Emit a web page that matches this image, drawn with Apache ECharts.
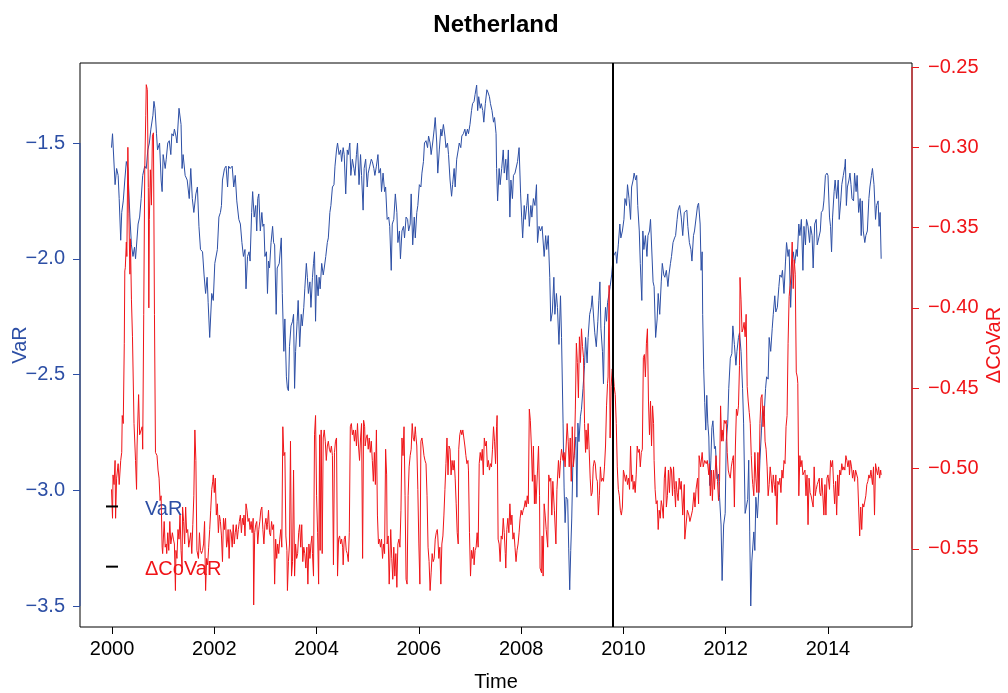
<!DOCTYPE html>
<html>
<head>
<meta charset="utf-8">
<script src="https://cdn.jsdelivr.net/npm/echarts@6/dist/echarts.min.js"></script>
<style>
  html, body { margin: 0; padding: 0; background: #fff; }
  #chart { width: 1008px; height: 693px; }
</style>
</head>
<body>
<div id="chart"></div>
<script>
// Weekly VaR (left axis) and ΔCoVaR (right axis) for the Netherlands, 2000–2015.
const varTime = [
1999.99,2000.01,2000.06,2000.09,2000.12,2000.14,2000.17,2000.19,2000.22,2000.25,2000.28,2000.31,2000.35,2000.38,2000.41,2000.44,2000.46,2000.51,2000.54,2000.57,
2000.60,2000.64,2000.67,2000.70,2000.73,2000.76,2000.80,2000.82,2000.84,2000.87,2000.89,2000.93,2000.96,2000.98,2001.00,2001.04,2001.06,2001.09,2001.12,2001.15,
2001.17,2001.20,2001.22,2001.25,2001.27,2001.31,2001.35,2001.37,2001.39,2001.43,2001.47,2001.51,2001.54,2001.57,2001.60,2001.64,2001.67,2001.70,2001.73,2001.77,
2001.80,2001.83,2001.86,2001.88,2001.91,2001.95,2001.98,2002.01,2002.06,2002.09,2002.12,2002.14,2002.16,2002.20,2002.23,2002.26,2002.28,2002.31,2002.35,2002.38,
2002.41,2002.44,2002.48,2002.51,2002.54,2002.57,2002.60,2002.62,2002.65,2002.68,2002.70,2002.73,2002.75,2002.78,2002.81,2002.83,2002.85,2002.87,2002.90,2002.93,
2002.95,2002.97,2002.99,2003.02,2003.04,2003.06,2003.08,2003.11,2003.14,2003.16,2003.18,2003.21,2003.23,2003.27,2003.31,2003.33,2003.36,2003.38,2003.41,2003.43,
2003.45,2003.47,2003.50,2003.53,2003.55,2003.57,2003.59,2003.62,2003.64,2003.67,2003.70,2003.72,2003.75,2003.77,2003.80,2003.82,2003.84,2003.87,2003.89,2003.92,
2003.94,2003.96,2003.98,2004.00,2004.03,2004.05,2004.07,2004.10,2004.13,2004.15,2004.18,2004.21,2004.23,2004.26,2004.28,2004.31,2004.34,2004.36,2004.39,2004.41,
2004.44,2004.47,2004.49,2004.52,2004.54,2004.57,2004.60,2004.62,2004.65,2004.67,2004.70,2004.73,2004.75,2004.78,2004.80,2004.83,2004.86,2004.88,2004.91,2004.93,
2004.96,2004.99,2005.01,2005.04,2005.07,2005.09,2005.12,2005.14,2005.17,2005.20,2005.22,2005.25,2005.27,2005.30,2005.33,2005.35,2005.38,2005.41,2005.43,2005.46,
2005.48,2005.51,2005.54,2005.57,2005.59,2005.62,2005.64,2005.67,2005.70,2005.72,2005.75,2005.78,2005.80,2005.83,2005.85,2005.88,2005.91,2005.93,2005.96,2005.98,
2006.01,2006.04,2006.06,2006.09,2006.11,2006.14,2006.17,2006.19,2006.22,2006.24,2006.27,2006.30,2006.32,2006.35,2006.37,2006.40,2006.43,2006.45,2006.48,2006.51,
2006.53,2006.56,2006.58,2006.61,2006.64,2006.66,2006.69,2006.71,2006.74,2006.77,2006.79,2006.82,2006.84,2006.87,2006.90,2006.92,2006.95,2006.97,2007.00,2007.03,
2007.05,2007.08,2007.10,2007.13,2007.15,2007.17,2007.20,2007.22,2007.25,2007.27,2007.30,2007.33,2007.35,2007.38,2007.40,2007.43,2007.46,2007.48,2007.51,2007.52,
2007.54,2007.57,2007.59,2007.62,2007.65,2007.67,2007.70,2007.72,2007.75,2007.78,2007.80,2007.83,2007.85,2007.88,2007.91,2007.93,2007.96,2007.99,2008.01,2008.03,
2008.06,2008.08,2008.11,2008.13,2008.16,2008.19,2008.21,2008.24,2008.27,2008.30,2008.32,2008.35,2008.38,2008.41,2008.45,2008.48,2008.50,2008.53,2008.56,2008.58,
2008.61,2008.64,2008.66,2008.69,2008.71,2008.74,2008.77,2008.79,2008.82,2008.84,2008.86,2008.88,2008.91,2008.93,2008.95,2008.97,2008.99,2009.01,2009.04,2009.07,
2009.09,2009.11,2009.13,2009.16,2009.18,2009.21,2009.24,2009.26,2009.29,2009.31,2009.34,2009.37,2009.39,2009.42,2009.44,2009.47,2009.50,2009.52,2009.54,2009.56,
2009.59,2009.61,2009.63,2009.65,2009.67,2009.69,2009.72,2009.74,2009.77,2009.80,2009.82,2009.85,2009.87,2009.90,2009.93,2009.95,2009.98,2010.01,2010.03,2010.06,
2010.08,2010.11,2010.14,2010.16,2010.19,2010.21,2010.24,2010.26,2010.28,2010.31,2010.33,2010.36,2010.38,2010.40,2010.43,2010.46,2010.48,2010.51,2010.53,2010.55,
2010.58,2010.60,2010.63,2010.66,2010.68,2010.71,2010.74,2010.76,2010.79,2010.81,2010.84,2010.87,2010.89,2010.92,2010.94,2010.97,2011.00,2011.02,2011.05,2011.07,
2011.10,2011.13,2011.16,2011.19,2011.21,2011.24,2011.26,2011.29,2011.32,2011.34,2011.37,2011.39,2011.42,2011.45,2011.47,2011.50,2011.52,2011.54,2011.55,2011.57,
2011.59,2011.61,2011.63,2011.65,2011.67,2011.69,2011.71,2011.73,2011.75,2011.78,2011.80,2011.83,2011.86,2011.88,2011.91,2011.93,2011.96,2011.99,2012.01,2012.04,
2012.06,2012.09,2012.12,2012.14,2012.17,2012.20,2012.22,2012.25,2012.27,2012.30,2012.33,2012.35,2012.38,2012.40,2012.43,2012.45,2012.47,2012.49,2012.51,2012.53,
2012.55,2012.57,2012.59,2012.62,2012.65,2012.67,2012.70,2012.72,2012.75,2012.78,2012.80,2012.83,2012.85,2012.88,2012.91,2012.93,2012.96,2012.98,2013.01,2013.04,
2013.06,2013.09,2013.11,2013.14,2013.17,2013.19,2013.22,2013.24,2013.27,2013.30,2013.32,2013.35,2013.38,2013.40,2013.43,2013.45,2013.48,2013.51,2013.53,2013.56,
2013.58,2013.61,2013.64,2013.66,2013.69,2013.71,2013.74,2013.77,2013.79,2013.82,2013.85,2013.87,2013.90,2013.92,2013.95,2013.98,2014.00,2014.03,2014.05,2014.07,
2014.09,2014.12,2014.14,2014.17,2014.20,2014.22,2014.25,2014.27,2014.30,2014.33,2014.34,2014.36,2014.38,2014.41,2014.43,2014.45,2014.47,2014.50,2014.52,2014.55,
2014.57,2014.60,2014.63,2014.65,2014.67,2014.69,2014.72,2014.74,2014.77,2014.80,2014.82,2014.85,2014.87,2014.90,2014.93,2014.95,2014.98,2015.00,2015.02,2015.04
];
const varValue = [
-1.52,-1.46,-1.68,-1.61,-1.64,-1.74,-1.92,-1.80,-1.75,-1.66,-1.58,-1.61,-1.82,-1.94,-1.99,-1.95,-2.00,-1.85,-1.82,-1.74,
-1.64,-1.60,-1.61,-1.53,-1.50,-1.44,-1.38,-1.32,-1.35,-1.46,-1.53,-1.50,-1.66,-1.71,-1.55,-1.61,-1.57,-1.50,-1.49,-1.55,
-1.46,-1.47,-1.44,-1.47,-1.50,-1.35,-1.42,-1.61,-1.55,-1.64,-1.66,-1.74,-1.61,-1.74,-1.80,-1.72,-1.69,-1.86,-1.96,-1.97,
-2.07,-2.15,-2.08,-2.19,-2.34,-2.15,-2.18,-2.02,-1.96,-1.82,-1.80,-1.77,-1.66,-1.61,-1.60,-1.69,-1.60,-1.61,-1.60,-1.69,
-1.64,-1.75,-1.83,-1.85,-1.93,-1.99,-1.96,-2.13,-1.99,-1.97,-2.01,-1.80,-1.71,-1.82,-1.77,-1.88,-1.74,-1.72,-1.88,-1.80,
-1.86,-1.85,-1.99,-1.97,-2.15,-2.01,-2.04,-1.93,-1.86,-1.93,-1.94,-2.24,-2.04,-2.02,-1.91,-2.15,-2.40,-2.26,-2.51,-2.56,
-2.57,-2.38,-2.29,-2.27,-2.24,-2.56,-2.40,-2.27,-2.18,-2.38,-2.24,-2.29,-2.21,-2.13,-2.02,-2.08,-2.15,-2.10,-2.21,-2.08,
-2.02,-1.97,-2.27,-2.07,-2.16,-2.08,-2.13,-2.02,-2.07,-2.04,-1.99,-1.93,-1.91,-1.80,-1.77,-1.69,-1.68,-1.60,-1.53,-1.50,
-1.55,-1.53,-1.58,-1.52,-1.55,-1.72,-1.53,-1.55,-1.50,-1.64,-1.57,-1.61,-1.64,-1.55,-1.50,-1.68,-1.55,-1.64,-1.79,-1.61,
-1.57,-1.69,-1.63,-1.60,-1.57,-1.58,-1.61,-1.64,-1.60,-1.55,-1.63,-1.61,-1.71,-1.63,-1.71,-1.69,-1.83,-1.82,-1.86,-2.05,
-1.85,-1.83,-1.72,-1.80,-1.93,-1.88,-2.00,-1.88,-1.86,-1.91,-1.82,-1.83,-1.88,-1.85,-1.72,-1.94,-1.82,-1.91,-1.80,-1.77,
-1.68,-1.69,-1.63,-1.58,-1.50,-1.49,-1.52,-1.47,-1.50,-1.55,-1.50,-1.44,-1.39,-1.50,-1.63,-1.53,-1.44,-1.47,-1.42,-1.47,
-1.52,-1.50,-1.55,-1.66,-1.73,-1.68,-1.61,-1.69,-1.57,-1.53,-1.50,-1.52,-1.47,-1.46,-1.44,-1.47,-1.44,-1.46,-1.42,-1.36,
-1.33,-1.32,-1.29,-1.25,-1.36,-1.30,-1.35,-1.33,-1.36,-1.41,-1.33,-1.27,-1.28,-1.30,-1.33,-1.36,-1.41,-1.39,-1.46,-1.61,
-1.75,-1.61,-1.68,-1.61,-1.53,-1.63,-1.57,-1.66,-1.53,-1.82,-1.66,-1.74,-1.64,-1.63,-1.63,-1.58,-1.52,-1.72,-1.82,-1.91,
-1.77,-1.83,-1.77,-1.72,-1.86,-1.77,-1.82,-1.74,-1.77,-1.68,-1.93,-1.86,-1.88,-1.86,-1.99,-1.90,-1.96,-1.90,-2.08,-2.27,
-2.23,-2.08,-2.24,-2.15,-2.21,-2.37,-2.16,-2.34,-2.71,-2.99,-3.14,-3.03,-3.04,-3.25,-3.43,-3.26,-3.12,-2.90,-2.84,-2.77,
-3.03,-2.71,-2.79,-2.68,-2.65,-2.56,-2.46,-2.34,-2.45,-2.34,-2.24,-2.21,-2.16,-2.26,-2.32,-2.38,-2.27,-2.18,-2.10,-2.30,
-2.40,-2.54,-2.29,-2.21,-2.27,-2.19,-2.15,-2.12,-2.07,-1.99,-1.99,-1.97,-2.02,-1.94,-1.85,-1.91,-1.88,-1.83,-1.74,-1.77,
-1.68,-1.74,-1.83,-1.69,-1.66,-1.63,-1.66,-1.64,-1.77,-1.88,-2.02,-2.18,-1.88,-1.96,-1.90,-1.99,-1.90,-1.88,-1.83,-1.83,
-2.10,-2.12,-2.34,-2.26,-2.15,-2.24,-2.10,-2.02,-2.07,-2.08,-2.05,-2.12,-2.07,-2.02,-1.99,-1.93,-1.91,-1.90,-1.83,-1.79,
-1.77,-1.82,-1.90,-1.80,-1.80,-1.79,-1.86,-1.93,-1.96,-2.01,-1.90,-1.88,-1.88,-1.77,-1.76,-1.85,-2.05,-1.97,-2.24,-2.48,
-2.62,-2.74,-2.59,-2.71,-2.77,-2.98,-2.87,-2.73,-2.70,-2.82,-2.81,-2.95,-2.93,-3.03,-3.15,-3.39,-3.15,-3.10,-2.79,-2.71,
-2.56,-2.43,-2.41,-2.29,-2.37,-2.46,-2.40,-2.34,-2.32,-2.40,-2.56,-2.71,-3.10,-3.10,-3.04,-2.87,-3.18,-3.50,-3.31,-3.31,
-3.18,-3.26,-3.03,-3.12,-2.99,-2.87,-2.74,-2.65,-2.68,-2.56,-2.51,-2.52,-2.34,-2.40,-2.30,-2.24,-2.16,-2.23,-2.21,-2.12,
-2.07,-2.08,-2.05,-2.15,-2.01,-1.93,-1.99,-1.96,-2.21,-2.02,-1.97,-2.02,-1.96,-1.99,-1.85,-1.90,-1.83,-2.05,-1.86,-1.94,
-1.83,-1.86,-1.93,-1.86,-1.90,-2.04,-1.85,-1.83,-1.94,-1.91,-1.88,-1.80,-1.79,-1.75,-1.64,-1.63,-1.64,-1.82,-1.86,-1.97,
-1.82,-1.71,-1.66,-1.74,-1.66,-1.83,-1.75,-1.68,-1.64,-1.60,-1.57,-1.77,-1.69,-1.66,-1.63,-1.68,-1.74,-1.75,-1.63,-1.71,
-1.64,-1.80,-1.74,-1.90,-1.75,-1.88,-1.93,-1.90,-1.88,-1.74,-1.69,-1.64,-1.61,-1.68,-1.83,-1.77,-1.75,-1.86,-1.80,-2.00
];

const covarTime = [
1999.99,2000.01,2000.02,2000.04,2000.06,2000.07,2000.09,2000.12,2000.14,2000.17,2000.19,2000.20,2000.22,2000.24,2000.25,2000.26,2000.28,2000.29,2000.31,2000.33,
2000.35,2000.36,2000.38,2000.40,2000.43,2000.46,2000.48,2000.49,2000.52,2000.54,2000.57,2000.59,2000.60,2000.62,2000.64,2000.66,2000.67,2000.69,2000.71,2000.72,
2000.73,2000.75,2000.77,2000.79,2000.81,2000.83,2000.85,2000.88,2000.90,2000.92,2000.94,2000.96,2000.98,2000.99,2001.02,2001.04,2001.06,2001.07,2001.09,2001.11,
2001.13,2001.15,2001.18,2001.20,2001.22,2001.24,2001.25,2001.27,2001.29,2001.31,2001.33,2001.35,2001.37,2001.38,2001.40,2001.42,2001.44,2001.46,2001.48,2001.50,
2001.52,2001.54,2001.56,2001.58,2001.60,2001.62,2001.64,2001.66,2001.68,2001.69,2001.71,2001.73,2001.75,2001.77,2001.79,2001.81,2001.83,2001.85,2001.87,2001.89,
2001.91,2001.93,2001.95,2001.97,2001.98,2002.00,2002.02,2002.04,2002.06,2002.08,2002.10,2002.12,2002.14,2002.16,2002.18,2002.20,2002.22,2002.24,2002.26,2002.27,
2002.29,2002.31,2002.33,2002.35,2002.37,2002.39,2002.41,2002.43,2002.45,2002.47,2002.49,2002.51,2002.53,2002.55,2002.57,2002.58,2002.60,2002.62,2002.64,2002.66,
2002.68,2002.70,2002.72,2002.74,2002.76,2002.77,2002.79,2002.81,2002.83,2002.85,2002.87,2002.89,2002.91,2002.93,2002.95,2002.97,2002.99,2003.01,2003.03,2003.04,
2003.06,2003.08,2003.10,2003.12,2003.14,2003.16,2003.18,2003.20,2003.22,2003.24,2003.26,2003.28,2003.30,2003.32,2003.34,2003.36,2003.38,2003.40,2003.42,2003.43,
2003.45,2003.47,2003.49,2003.51,2003.53,2003.55,2003.57,2003.59,2003.61,2003.63,2003.65,2003.67,2003.69,2003.71,2003.73,2003.75,2003.77,2003.79,2003.81,2003.83,
2003.85,2003.87,2003.89,2003.91,2003.92,2003.94,2003.96,2003.98,2004.00,2004.02,2004.04,2004.06,2004.07,2004.09,2004.11,2004.13,2004.15,2004.17,2004.19,2004.21,
2004.23,2004.25,2004.27,2004.29,2004.31,2004.33,2004.35,2004.37,2004.39,2004.41,2004.43,2004.45,2004.47,2004.49,2004.51,2004.52,2004.54,2004.56,2004.58,2004.60,
2004.62,2004.64,2004.66,2004.68,2004.70,2004.72,2004.74,2004.76,2004.78,2004.80,2004.82,2004.84,2004.86,2004.88,2004.90,2004.92,2004.94,2004.95,2004.97,2004.99,
2005.01,2005.03,2005.05,2005.07,2005.09,2005.11,2005.13,2005.15,2005.17,2005.19,2005.21,2005.23,2005.25,2005.27,2005.29,2005.31,2005.33,2005.35,2005.37,2005.38,
2005.40,2005.42,2005.45,2005.47,2005.49,2005.51,2005.53,2005.55,2005.57,2005.59,2005.61,2005.63,2005.65,2005.67,2005.69,2005.71,2005.73,2005.75,2005.77,2005.79,
2005.81,2005.83,2005.85,2005.87,2005.89,2005.91,2005.93,2005.94,2005.96,2005.98,2006.00,2006.02,2006.04,2006.06,2006.08,2006.10,2006.12,2006.14,2006.16,2006.18,
2006.20,2006.22,2006.24,2006.26,2006.28,2006.30,2006.32,2006.34,2006.36,2006.37,2006.39,2006.41,2006.43,2006.45,2006.47,2006.49,2006.51,2006.53,2006.55,2006.57,
2006.59,2006.61,2006.63,2006.65,2006.67,2006.69,2006.71,2006.73,2006.75,2006.77,2006.78,2006.80,2006.82,2006.84,2006.86,2006.88,2006.90,2006.92,2006.94,2006.96,
2006.97,2006.99,2007.01,2007.03,2007.05,2007.07,2007.08,2007.10,2007.12,2007.14,2007.16,2007.18,2007.20,2007.22,2007.24,2007.26,2007.28,2007.30,2007.32,2007.34,
2007.36,2007.38,2007.40,2007.42,2007.44,2007.46,2007.48,2007.50,2007.52,2007.53,2007.55,2007.57,2007.59,2007.61,2007.63,2007.65,2007.67,2007.69,2007.70,2007.72,
2007.74,2007.76,2007.78,2007.80,2007.82,2007.84,2007.86,2007.88,2007.90,2007.92,2007.94,2007.96,2007.98,2008.00,2008.02,2008.04,2008.06,2008.08,2008.10,2008.12,
2008.14,2008.16,2008.18,2008.20,2008.22,2008.24,2008.26,2008.27,2008.29,2008.32,2008.34,2008.36,2008.37,2008.40,2008.41,2008.43,2008.45,2008.47,2008.49,2008.52,
2008.54,2008.56,2008.58,2008.60,2008.62,2008.65,2008.68,2008.70,2008.73,2008.75,2008.77,2008.79,2008.82,2008.84,2008.86,2008.88,2008.90,2008.92,2008.94,2008.96,
2008.98,2009.00,2009.02,2009.04,2009.06,2009.08,2009.10,2009.12,2009.14,2009.16,2009.18,2009.20,2009.22,2009.24,2009.26,2009.27,2009.29,2009.31,2009.33,2009.35,
2009.37,2009.39,2009.41,2009.43,2009.45,2009.47,2009.49,2009.51,2009.53,2009.55,2009.57,2009.59,2009.61,2009.63,2009.65,2009.67,2009.69,2009.70,2009.72,2009.74,
2009.76,2009.78,2009.80,2009.82,2009.84,2009.86,2009.88,2009.90,2009.92,2009.94,2009.96,2009.98,2010.00,2010.02,2010.04,2010.06,2010.08,2010.10,2010.12,2010.14,
2010.16,2010.18,2010.19,2010.21,2010.23,2010.25,2010.27,2010.29,2010.31,2010.33,2010.35,2010.37,2010.39,2010.41,2010.43,2010.45,2010.47,2010.49,2010.51,2010.53,
2010.55,2010.57,2010.59,2010.60,2010.62,2010.64,2010.66,2010.68,2010.70,2010.72,2010.74,2010.76,2010.78,2010.80,2010.82,2010.84,2010.86,2010.88,2010.90,2010.92,
2010.94,2010.96,2010.98,2011.00,2011.02,2011.03,2011.05,2011.07,2011.09,2011.11,2011.13,2011.16,2011.19,2011.20,2011.22,2011.25,2011.28,2011.30,2011.33,2011.35,
2011.38,2011.40,2011.42,2011.45,2011.47,2011.48,2011.51,2011.54,2011.56,2011.59,2011.62,2011.64,2011.67,2011.68,2011.70,2011.72,2011.74,2011.76,2011.78,2011.81,
2011.84,2011.86,2011.88,2011.90,2011.92,2011.93,2011.95,2011.97,2011.99,2012.01,2012.03,2012.05,2012.07,2012.09,2012.11,2012.13,2012.15,2012.17,2012.19,2012.21,
2012.23,2012.25,2012.27,2012.28,2012.30,2012.32,2012.34,2012.36,2012.38,2012.40,2012.42,2012.44,2012.46,2012.48,2012.50,2012.52,2012.53,2012.55,2012.57,2012.59,
2012.61,2012.63,2012.65,2012.67,2012.69,2012.71,2012.73,2012.75,2012.77,2012.79,2012.81,2012.83,2012.85,2012.87,2012.89,2012.91,2012.93,2012.95,2012.97,2012.98,
2013.00,2013.02,2013.04,2013.06,2013.08,2013.10,2013.12,2013.14,2013.16,2013.18,2013.20,2013.22,2013.24,2013.26,2013.28,2013.30,2013.32,2013.34,2013.36,2013.38,
2013.40,2013.41,2013.43,2013.45,2013.47,2013.49,2013.51,2013.53,2013.55,2013.57,2013.59,2013.61,2013.63,2013.65,2013.67,2013.69,2013.71,2013.73,2013.75,2013.77,
2013.79,2013.81,2013.83,2013.84,2013.86,2013.88,2013.90,2013.92,2013.94,2013.96,2013.98,2014.00,2014.03,2014.05,2014.07,2014.09,2014.11,2014.13,2014.15,2014.17,
2014.19,2014.21,2014.23,2014.25,2014.27,2014.29,2014.31,2014.33,2014.35,2014.37,2014.39,2014.41,2014.42,2014.44,2014.46,2014.48,2014.50,2014.52,2014.54,2014.56,
2014.58,2014.60,2014.62,2014.64,2014.66,2014.68,2014.70,2014.72,2014.74,2014.76,2014.78,2014.80,2014.82,2014.84,2014.85,2014.87,2014.89,2014.91,2014.93,2014.95,
2014.97,2014.99,2015.01,2015.03,2015.04
];
const covarValue = [
-0.513,-0.531,-0.504,-0.510,-0.495,-0.531,-0.506,-0.497,-0.510,-0.495,-0.490,-0.467,-0.472,-0.422,-0.377,-0.375,-0.359,-0.368,-0.300,-0.341,
-0.379,-0.357,-0.395,-0.418,-0.472,-0.495,-0.513,-0.486,-0.454,-0.479,-0.479,-0.474,-0.488,-0.404,-0.314,-0.280,-0.261,-0.264,-0.325,-0.400,
-0.345,-0.314,-0.336,-0.293,-0.291,-0.404,-0.490,-0.492,-0.501,-0.506,-0.520,-0.517,-0.549,-0.553,-0.533,-0.549,-0.547,-0.553,-0.540,-0.551,
-0.533,-0.547,-0.540,-0.544,-0.547,-0.576,-0.551,-0.556,-0.538,-0.544,-0.529,-0.551,-0.562,-0.524,-0.533,-0.547,-0.524,-0.540,-0.538,-0.549,
-0.549,-0.540,-0.553,-0.535,-0.517,-0.476,-0.495,-0.551,-0.551,-0.556,-0.540,-0.551,-0.553,-0.551,-0.547,-0.533,-0.576,-0.556,-0.560,-0.549,
-0.538,-0.526,-0.513,-0.508,-0.504,-0.515,-0.506,-0.529,-0.522,-0.540,-0.529,-0.533,-0.542,-0.558,-0.531,-0.538,-0.531,-0.549,-0.544,-0.538,
-0.556,-0.538,-0.540,-0.549,-0.535,-0.547,-0.540,-0.535,-0.544,-0.538,-0.533,-0.529,-0.540,-0.531,-0.535,-0.529,-0.542,-0.522,-0.526,-0.533,
-0.531,-0.538,-0.533,-0.540,-0.531,-0.585,-0.540,-0.535,-0.533,-0.547,-0.538,-0.533,-0.526,-0.524,-0.538,-0.547,-0.535,-0.531,-0.538,-0.535,
-0.526,-0.540,-0.542,-0.533,-0.538,-0.535,-0.572,-0.544,-0.556,-0.547,-0.553,-0.544,-0.538,-0.549,-0.474,-0.492,-0.490,-0.542,-0.551,-0.576,
-0.558,-0.547,-0.483,-0.567,-0.558,-0.501,-0.567,-0.547,-0.556,-0.553,-0.540,-0.535,-0.549,-0.535,-0.558,-0.549,-0.553,-0.562,-0.549,-0.572,
-0.547,-0.556,-0.547,-0.542,-0.553,-0.567,-0.479,-0.467,-0.517,-0.540,-0.572,-0.479,-0.551,-0.476,-0.553,-0.481,-0.476,-0.483,-0.495,-0.486,
-0.483,-0.488,-0.490,-0.486,-0.492,-0.560,-0.490,-0.483,-0.481,-0.567,-0.544,-0.542,-0.547,-0.544,-0.549,-0.560,-0.544,-0.542,-0.551,-0.553,
-0.558,-0.540,-0.474,-0.472,-0.479,-0.476,-0.483,-0.476,-0.486,-0.472,-0.486,-0.495,-0.481,-0.472,-0.556,-0.470,-0.474,-0.486,-0.481,-0.479,
-0.488,-0.481,-0.490,-0.483,-0.495,-0.508,-0.490,-0.510,-0.476,-0.529,-0.547,-0.544,-0.549,-0.544,-0.556,-0.547,-0.553,-0.488,-0.504,-0.547,
-0.542,-0.572,-0.538,-0.556,-0.569,-0.549,-0.567,-0.553,-0.574,-0.547,-0.544,-0.549,-0.526,-0.481,-0.492,-0.474,-0.517,-0.569,-0.572,-0.517,
-0.499,-0.492,-0.488,-0.472,-0.481,-0.483,-0.474,-0.479,-0.486,-0.513,-0.547,-0.572,-0.483,-0.481,-0.486,-0.492,-0.495,-0.497,-0.517,-0.549,
-0.558,-0.576,-0.565,-0.553,-0.558,-0.556,-0.544,-0.540,-0.538,-0.542,-0.556,-0.549,-0.572,-0.547,-0.542,-0.529,-0.513,-0.497,-0.481,-0.504,
-0.486,-0.488,-0.504,-0.495,-0.501,-0.495,-0.506,-0.522,-0.540,-0.547,-0.488,-0.479,-0.476,-0.479,-0.476,-0.481,-0.486,-0.492,-0.497,-0.495,
-0.501,-0.540,-0.567,-0.551,-0.556,-0.549,-0.560,-0.551,-0.549,-0.540,-0.549,-0.497,-0.490,-0.495,-0.488,-0.504,-0.481,-0.486,-0.483,-0.499,
-0.495,-0.501,-0.497,-0.499,-0.488,-0.474,-0.483,-0.497,-0.474,-0.467,-0.544,-0.547,-0.558,-0.542,-0.544,-0.531,-0.540,-0.553,-0.562,-0.538,
-0.531,-0.540,-0.522,-0.535,-0.529,-0.544,-0.540,-0.549,-0.558,-0.551,-0.547,-0.540,-0.531,-0.526,-0.529,-0.526,-0.524,-0.520,-0.524,-0.517,
-0.522,-0.463,-0.470,-0.486,-0.508,-0.486,-0.522,-0.504,-0.522,-0.501,-0.486,-0.517,-0.562,-0.565,-0.542,-0.567,-0.522,-0.529,-0.538,-0.549,
-0.504,-0.508,-0.506,-0.529,-0.508,-0.526,-0.547,-0.513,-0.495,-0.506,-0.495,-0.488,-0.495,-0.490,-0.499,-0.486,-0.472,-0.483,-0.499,-0.481,
-0.508,-0.474,-0.499,-0.492,-0.463,-0.422,-0.434,-0.456,-0.418,-0.434,-0.413,-0.424,-0.431,-0.472,-0.490,-0.476,-0.488,-0.472,-0.488,-0.506,
-0.517,-0.515,-0.499,-0.495,-0.497,-0.506,-0.508,-0.529,-0.517,-0.499,-0.508,-0.506,-0.508,-0.499,-0.486,-0.461,-0.447,-0.443,-0.386,-0.481,
-0.449,-0.438,-0.440,-0.449,-0.454,-0.472,-0.499,-0.513,-0.517,-0.526,-0.529,-0.524,-0.501,-0.504,-0.508,-0.504,-0.510,-0.506,-0.513,-0.486,
-0.508,-0.504,-0.513,-0.508,-0.515,-0.504,-0.486,-0.490,-0.488,-0.499,-0.490,-0.488,-0.431,-0.429,-0.443,-0.422,-0.413,-0.458,-0.479,-0.458,
-0.486,-0.461,-0.472,-0.495,-0.513,-0.522,-0.520,-0.538,-0.526,-0.531,-0.520,-0.524,-0.531,-0.506,-0.499,-0.524,-0.517,-0.501,-0.515,-0.499,
-0.501,-0.517,-0.499,-0.513,-0.524,-0.508,-0.515,-0.520,-0.506,-0.513,-0.508,-0.529,-0.510,-0.544,-0.544,-0.526,-0.529,-0.533,-0.529,-0.526,
-0.515,-0.524,-0.513,-0.506,-0.522,-0.492,-0.499,-0.490,-0.499,-0.495,-0.497,-0.495,-0.504,-0.497,-0.517,-0.501,-0.520,-0.501,-0.513,-0.492,
-0.508,-0.520,-0.508,-0.461,-0.483,-0.476,-0.483,-0.470,-0.472,-0.470,-0.490,-0.501,-0.504,-0.506,-0.499,-0.495,-0.492,-0.524,-0.486,-0.463,
-0.467,-0.461,-0.436,-0.381,-0.395,-0.415,-0.413,-0.409,-0.418,-0.404,-0.449,-0.458,-0.465,-0.472,-0.492,-0.506,-0.510,-0.517,-0.490,-0.506,
-0.515,-0.490,-0.515,-0.472,-0.456,-0.454,-0.474,-0.461,-0.483,-0.488,-0.499,-0.517,-0.510,-0.499,-0.506,-0.515,-0.504,-0.510,-0.517,-0.504,
-0.535,-0.508,-0.510,-0.506,-0.515,-0.501,-0.506,-0.495,-0.497,-0.474,-0.467,-0.422,-0.393,-0.386,-0.379,-0.359,-0.388,-0.370,-0.379,-0.440,
-0.443,-0.447,-0.517,-0.492,-0.499,-0.495,-0.504,-0.504,-0.501,-0.517,-0.504,-0.535,-0.506,-0.515,-0.517,-0.517,-0.524,-0.499,-0.517,-0.513,
-0.510,-0.508,-0.506,-0.515,-0.517,-0.506,-0.517,-0.529,-0.510,-0.529,-0.506,-0.504,-0.513,-0.495,-0.499,-0.495,-0.510,-0.522,-0.508,-0.529,
-0.504,-0.517,-0.501,-0.504,-0.497,-0.501,-0.499,-0.501,-0.492,-0.495,-0.499,-0.495,-0.504,-0.495,-0.499,-0.506,-0.501,-0.508,-0.501,-0.501,
-0.506,-0.524,-0.542,-0.524,-0.538,-0.522,-0.524,-0.524,-0.517,-0.510,-0.508,-0.504,-0.506,-0.501,-0.504,-0.510,-0.499,-0.529,-0.497,-0.501,
-0.504,-0.499,-0.506,-0.501,-0.504
];

// Tick positions on each axis
const yearTicks = [2000, 2002, 2004, 2006, 2008, 2010, 2012, 2014];
const varTicks = [-3.5, -3.0, -2.5, -2.0, -1.5];
const covarTicks = [-0.55, -0.50, -0.45, -0.40, -0.35, -0.30, -0.25];
const breakYear = 2009.8;

const BLUE = '#2d4fa5';
const RED = '#f01418';
const FONT = '"Liberation Sans", Arial, Helvetica, sans-serif';

const pairs = (xs, ys) => xs.map((x, i) => [x, ys[i]]);
const minus = s => s.replace('-', '\u2212');

const chart = echarts.init(document.getElementById('chart'), null, { renderer: 'canvas' });

chart.setOption({
  animation: false,
  backgroundColor: '#ffffff',
  textStyle: { fontFamily: FONT },
  grid: {
    left: 80, right: 96, top: 63, bottom: 66,
    show: true, borderColor: '#000', borderWidth: 1, backgroundColor: 'transparent'
  },
  xAxis: {
    type: 'value',
    min: 1999.374, max: 2015.643,
    axisLine: { show: false },
    splitLine: { show: false },
    axisTick: { show: true, customValues: yearTicks, length: 7, lineStyle: { color: '#000', width: 1 } },
    axisLabel: { customValues: yearTicks, color: '#000', fontSize: 20, margin: 12, fontFamily: FONT,
                 formatter: v => String(Math.round(v)) }
  },
  yAxis: [
    {
      type: 'value', position: 'left',
      min: -3.5907, max: -1.1544,
      axisLine: { show: false },
      splitLine: { show: false },
      axisTick: { show: true, customValues: varTicks, length: 7, lineStyle: { color: BLUE, width: 1 } },
      axisLabel: { customValues: varTicks, color: BLUE, fontSize: 20, margin: 15, fontFamily: FONT,
                   formatter: v => minus(v.toFixed(1)) }
    },
    {
      type: 'value', position: 'right',
      min: -0.5987, max: -0.2475,
      axisLine: { show: false },
      splitLine: { show: false },
      axisTick: { show: true, customValues: covarTicks, length: 7, lineStyle: { color: RED, width: 1 } },
      axisLabel: { customValues: covarTicks, color: RED, fontSize: 20, margin: 16, fontFamily: FONT,
                   formatter: v => minus(v.toFixed(2)) }
    }
  ],
  series: [
    {
      name: 'VaR', type: 'line', yAxisIndex: 0,
      data: pairs(varTime, varValue),
      showSymbol: false, symbol: 'none',
      lineStyle: { color: BLUE, width: 1 },
      markLine: {
        silent: true, symbol: ['none', 'none'],
        label: { show: false },
        lineStyle: { color: '#000', width: 2, type: 'solid' },
        data: [{ xAxis: breakYear }]
      },
      z: 2
    },
    {
      name: 'ΔCoVaR', type: 'line', yAxisIndex: 1,
      data: pairs(covarTime, covarValue),
      showSymbol: false, symbol: 'none',
      lineStyle: { color: RED, width: 1 },
      z: 3
    }
  ]
});

// Axis lines spanning only the labelled range, plus titles and the legend
const gx0 = chart.convertToPixel({ xAxisIndex: 0 }, 1999.374);
const gx1 = chart.convertToPixel({ xAxisIndex: 0 }, 2015.643);
const gyTop = chart.convertToPixel({ yAxisIndex: 0 }, -1.1544);
const gyBot = chart.convertToPixel({ yAxisIndex: 0 }, -3.5907);
const midX = (gx0 + gx1) / 2;
const midY = (gyTop + gyBot) / 2;
const lTop = chart.convertToPixel({ yAxisIndex: 0 }, varTicks[varTicks.length - 1]);
const lBot = chart.convertToPixel({ yAxisIndex: 0 }, varTicks[0]);
const rTop = chart.convertToPixel({ yAxisIndex: 1 }, covarTicks[covarTicks.length - 1]);
const rBot = chart.convertToPixel({ yAxisIndex: 1 }, covarTicks[0]);
const legVaRY = chart.convertToPixel({ yAxisIndex: 0 }, -3.07);
const legCoY = chart.convertToPixel({ yAxisIndex: 0 }, -3.33);

chart.setOption({
  graphic: [
    { type: 'line', shape: { x1: gx0, y1: lTop, x2: gx0, y2: lBot }, style: { stroke: BLUE, lineWidth: 1 }, z: 10 },
    { type: 'line', shape: { x1: gx1, y1: rTop, x2: gx1, y2: rBot }, style: { stroke: RED, lineWidth: 1 }, z: 10 },
    { type: 'text', x: midX, y: 25, style: { text: 'Netherland', font: 'bold 24px ' + FONT, fill: '#000', align: 'center', verticalAlign: 'middle' } },
    { type: 'text', x: midX, y: 682, style: { text: 'Time', font: '20px ' + FONT, fill: '#000', align: 'center', verticalAlign: 'middle' } },
    { type: 'text', x: 20, y: midY, rotation: Math.PI / 2, style: { text: 'VaR', font: '20px ' + FONT, fill: BLUE, align: 'center', verticalAlign: 'middle' } },
    { type: 'text', x: 994, y: midY, rotation: Math.PI / 2, style: { text: 'ΔCoVaR', font: '20px ' + FONT, fill: RED, align: 'center', verticalAlign: 'middle' } },
    { type: 'line', shape: { x1: 106, y1: legVaRY, x2: 118, y2: legVaRY }, style: { stroke: '#000', lineWidth: 2 }, z: 10 },
    { type: 'line', shape: { x1: 106, y1: legCoY, x2: 118, y2: legCoY }, style: { stroke: '#000', lineWidth: 2 }, z: 10 },
    { type: 'text', x: 145, y: legVaRY + 3, style: { text: 'VaR', font: '20px ' + FONT, fill: BLUE, align: 'left', verticalAlign: 'middle' }, z: 1 },
    { type: 'text', x: 145, y: legCoY + 3, style: { text: 'ΔCoVaR', font: '20px ' + FONT, fill: RED, align: 'left', verticalAlign: 'middle' }, z: 1 }
  ]
});
</script>
</body>
</html>
